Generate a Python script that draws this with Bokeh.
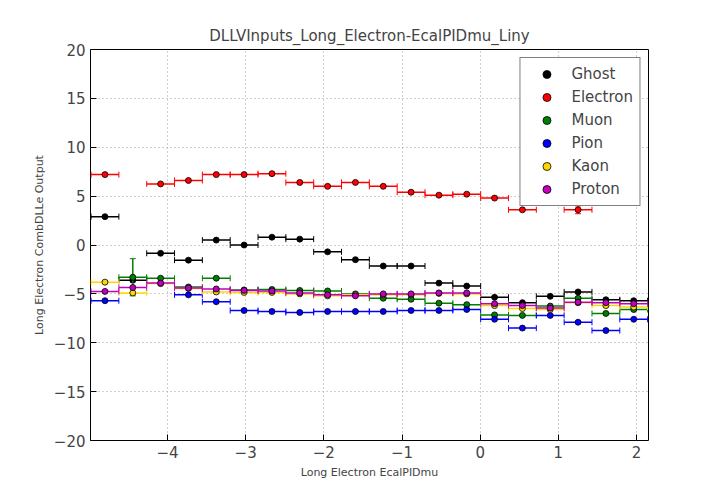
import math
import numpy as np
from bokeh.plotting import figure
from bokeh.models import Range1d, FixedTicker, Legend, LegendItem
from bokeh.embed import file_html
from bokeh.resources import INLINE

nan = float("nan")
bin_width = 0.356
x_centers = [-4.8 + bin_width * i for i in range(20)]

ghost = [2.9, -3.6, -0.85, -1.55, 0.5, 0.0, 0.8, 0.6, -0.7, -1.5,
         -2.15, -2.15, -3.9, -4.2, -5.35, -5.9, -5.25, -4.8, -5.6, -5.7]
electron = [7.2, nan, 6.25, 6.6, 7.2, 7.2, 7.3, 6.4, 6.0, 6.4,
            6.0, 5.4, 5.1, 5.2, 4.8, 3.6, nan, 3.6, nan, nan]
muon = [nan, -3.3, -3.4, -4.3, -3.4, -4.6, -4.55, -4.65, -4.7, -5.0,
        -5.45, -5.55, -5.95, -6.1, -7.15, -7.2, -6.25, -5.45, -7.0, -6.6]
pion = [-5.7, nan, nan, -5.1, -5.8, -6.7, -6.8, -6.9, -6.8, -6.8,
        -6.8, -6.7, -6.7, -6.6, -7.6, -8.5, -7.2, -7.9, -8.75, -7.6]
kaon = [-3.8, -4.9, -3.95, -4.45, -4.8, -4.85, -4.85, -5.0, -5.2, -5.1,
        -5.1, -5.1, -4.95, -5.0, -6.2, -6.5, -6.6, -5.9, -6.2, -6.35]
proton = [-4.75, -4.35, -3.9, -4.4, -4.5, -4.65, -4.7, -4.9, -5.1, -5.2,
          -5.0, -5.0, -4.9, -4.9, -6.0, -6.2, -6.45, -5.85, -5.9, -6.0]

# small vertical errors (most are hidden under the markers)
muon_err = [0.0] * 20
muon_err[1] = 1.9
electron_err = [0.0] * 20
electron_err[17] = 0.4

series = [
    ("Ghost", ghost, None, "black"),
    ("Electron", electron, electron_err, "red"),
    ("Muon", muon, muon_err, "green"),
    ("Pion", pion, None, "blue"),
    ("Kaon", kaon, None, "gold"),
    ("Proton", proton, None, "#bf00bf"),
]

p = figure(width=720, height=504, output_backend="svg", toolbar_location=None,
           x_range=Range1d(-4.985, 2.153), y_range=Range1d(-20, 20),
           title="DLLVInputs_Long_Electron-EcalPIDmu_Liny",
           min_border_left=90, min_border_right=72, min_border_top=49, min_border_bottom=64)
p.title.align = "center"
p.title.text_font = "DejaVu Sans"
p.title.text_font_size = "15px"
p.title.text_font_style = "normal"
p.xaxis.axis_label = "Long Electron EcalPIDmu"
p.yaxis.axis_label = "Long Electron CombDLLe Output"
p.outline_line_color = "black"
p.outline_line_width = 1
for ax in (p.xaxis, p.yaxis):
    ax.axis_label_text_font = "DejaVu Sans"
    ax.axis_label_text_font_size = "11px"
    ax.axis_label_text_font_style = "normal"
    ax.major_label_text_font = "DejaVu Sans"
    ax.major_label_text_font_size = "15px"
    ax.major_tick_in = 6
    ax.major_tick_out = 0
    ax.minor_tick_line_color = None
    ax.axis_line_color = None
p.xaxis.ticker = FixedTicker(ticks=[-4, -3, -2, -1, 0, 1, 2])
p.yaxis.ticker = FixedTicker(ticks=list(range(-20, 25, 5)))
p.xgrid.grid_line_color = "#a0a0a0"
p.ygrid.grid_line_color = "#a0a0a0"
p.xgrid.grid_line_dash = "1 3"
p.ygrid.grid_line_dash = "1 3"

xs = np.array(x_centers)
items = []
for name, vals, errs, color in series:
    y = np.array(vals, dtype=float)
    p.segment(xs - bin_width / 2, y, xs + bin_width / 2, y, line_color=color, line_width=1.5)
    p.scatter(np.concatenate([xs - bin_width / 2, xs + bin_width / 2]), np.concatenate([y, y]),
              marker="dash", angle=math.pi / 2, size=6, line_color=color, line_width=1)
    if errs is not None:
        e = np.array(errs)
        m = e > 0
        p.segment(xs[m], y[m] - e[m], xs[m], y[m] + e[m], line_color=color, line_width=1.5)
        p.scatter(np.concatenate([xs[m], xs[m]]), np.concatenate([y[m] - e[m], y[m] + e[m]]),
                  marker="dash", size=6, line_color=color)
    r = p.scatter(xs, y, size=6, fill_color=color, line_color="black", line_width=0.8)
    items.append(LegendItem(label=name, renderers=[r]))

legend = Legend(items=items, location="top_right", label_text_font="DejaVu Sans",
                label_text_font_size="15px", border_line_color="black", border_line_width=1,
                padding=6, spacing=3, glyph_width=40, label_height=19, margin=8)
p.add_layout(legend)

open("out.html", "w").write(file_html(p, INLINE))
